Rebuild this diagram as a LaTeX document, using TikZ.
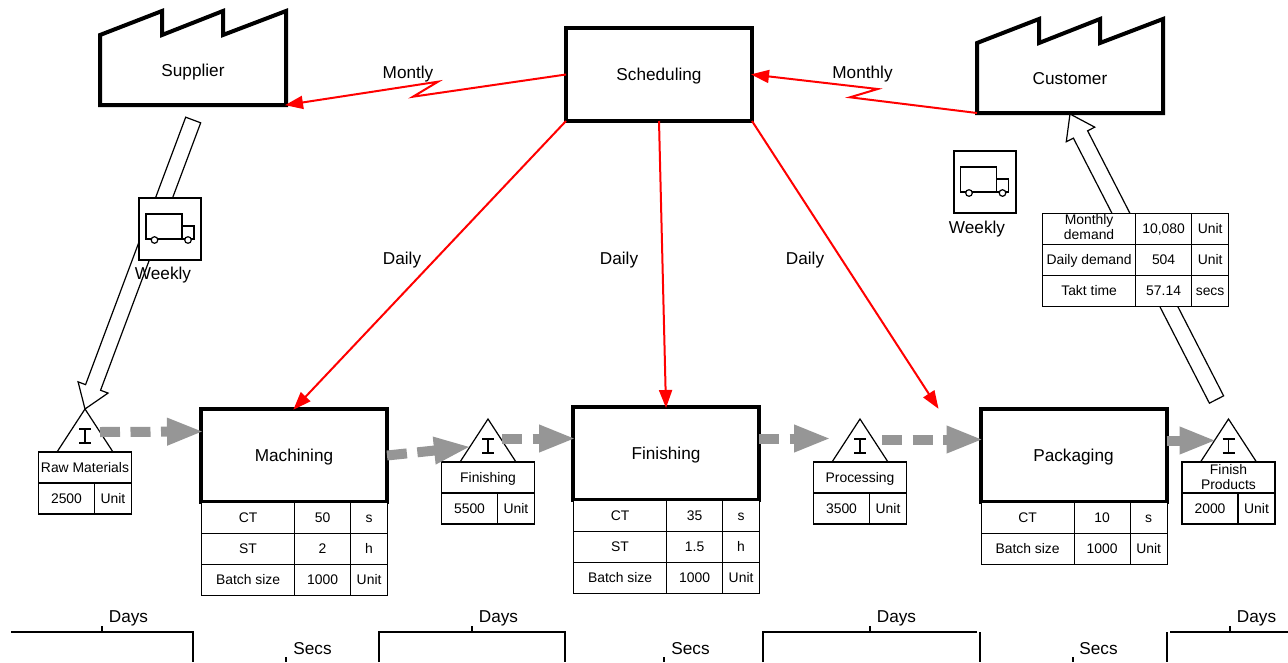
\documentclass[tikz,border=0pt]{standalone}
\usepackage{fontspec}
\setmainfont{Liberation Sans}
\usepackage{xcolor}
\usepackage{tikz}
\usetikzlibrary{
    arrows.meta,
    calc,
    matrix,
    positioning,
    shapes.geometric
}
\definecolor{pushgray}{RGB}{150,150,150}
\newcommand{\labelfont}{\fontsize{17.2}{19}\selectfont}
\newcommand{\cellfont}{\fontsize{13.9}{15}\selectfont}
\newcommand{\twolines}[2]{\begin{tabular}{@{}c@{}}#1\\#2\end{tabular}}
\tikzset{
    heavy/.style={line width=4pt, line join=miter},
    thin line/.style={draw, line width=1.2pt},
    label text/.style={font=\labelfont, text height=12.3pt, text depth=0pt},
    processbox/.style={heavy, draw, fill=white, minimum width=186pt, minimum height=93pt, outer sep=0pt, label text},
    factorybox/.style={minimum width=186pt, minimum height=70pt, outer sep=0pt, label text},
    truckbox/.style={draw, line width=2pt, fill=white, minimum width=62pt, minimum height=62pt, outer sep=0pt},
    caption/.style={label text, inner sep=0pt},
    cell/.style={thin line, fill=white, inner sep=0pt, outer sep=0pt, minimum height=31pt, align=center, font=\cellfont, text height=9.4pt, text depth=0pt},
    twoline/.style={text height=, text depth=},
    stocktri/.style={thin line, fill=white, isosceles triangle, isosceles triangle apex angle=66, shape border rotate=90, isosceles triangle stretches, minimum width=56pt, minimum height=43pt, inner sep=0pt, outer sep=0pt},
    datatable/.style={matrix of nodes, anchor=north west, inner sep=0pt, outer sep=0pt, row sep=-1.2pt, column sep=-1.2pt, nodes={cell, anchor=center},
        column 1/.style={nodes={minimum width=93pt}},
        column 2/.style={nodes={minimum width=56pt}},
        column 3/.style={nodes={minimum width=37pt}}},
    info/.style={red, line width=2pt, shorten >=-1pt, -{Triangle[length=18pt, width=13pt]}},
    push/.style={pushgray, line width=10pt, dash pattern=on 20pt off 10.5pt, shorten >=-3pt, -{Triangle[length=37pt, width=25pt]}},
    shipment/.style={thin line, fill=white, to path={
        ($(\tikztostart)!8pt!90:(\tikztotarget)$)
        -- ($($(\tikztotarget)!23pt!(\tikztostart)$)!-8pt!90:(\tikztostart)$)
        -- ($($(\tikztotarget)!23pt!(\tikztostart)$)!-16pt!90:(\tikztostart)$)
        -- (\tikztotarget)
        -- ($($(\tikztotarget)!23pt!(\tikztostart)$)!16pt!90:(\tikztostart)$)
        -- ($($(\tikztotarget)!23pt!(\tikztostart)$)!8pt!90:(\tikztostart)$)
        -- ($(\tikztostart)!-8pt!90:(\tikztotarget)$) -- cycle}},
    truck/.pic={
        \draw[line width=1.2pt] (-24,-15) rectangle (12,10);
        \draw[line width=1.2pt] (12,-3) rectangle (24,10);
        \draw[line width=1.2pt, fill=white] (-15.5,11) circle (3.3pt);
        \draw[line width=1.2pt, fill=white] (18,11) circle (3.3pt);
    }
}
% factory outline round a node
\newcommand{\factory}[1]{
    \draw[heavy] (#1.south west) -- (#1.north west) -- ++(62,-24) -- ++(0,24) -- ++(61,-24) -- ++(0,24) -- ++(63,-24) -- (#1.south east) -- cycle;
}
% options of the title, name, x, base y, title, amount
\newcommand{\stockitem}[6][]{
    \node[stocktri, anchor=lower side] (#2) at (#3,#4) {};
    \draw[line width=1.2pt] ([yshift=-20pt]#2.apex) +(-6,0) -- +(6,0) +(0,0) -- +(0,14) +(-6,14) -- +(6,14);
    \node[cell, minimum width=93pt, anchor=north, #1] (#2title) at (#2.lower side) {#5};
    \node[cell, minimum width=56pt, anchor=north west] (#2amount) at (#2title.south west) {#6};
    \node[cell, minimum width=37pt, anchor=north east] (#2unit) at (#2title.south east) {Unit};
}

\begin{document}
\begin{tikzpicture}[x=1pt, y=-1pt]
    \useasboundingbox (0,0) rectangle (1288,662);

    \node[factorybox] (supplier) at (193,70) {Supplier};
    \node[factorybox] (customer) at (1070,78) {Customer};
    \factory{supplier}
    \factory{customer}

    \stockitem{raw}{85}{452}{Raw Materials}{2500}
    \stockitem{wip}{488}{462}{Finishing}{5500}
    \stockitem{proc}{860}{462}{Processing}{3500}
    \stockitem[twoline]{goods}{1228.5}{462}{Finish\\Products}{2000}

    \coordinate (supplierdrop) at (193.2,120);
    \coordinate (goodsdrop) at (1216.5,399.5);
    \path (supplierdrop) edge[shipment] (raw.apex);
    \path (goodsdrop) edge[shipment] (1070,114);

    \node[truckbox] (inbound) at (170,229) {};
    \pic at (inbound.center) {truck};
    \node[truckbox] (outbound) at (984.5,182) {};
    \pic at (outbound.center) {truck};
    \node[caption] (inboundlabel) at (163,273.5) {Weekly};
    \node[caption] (outboundlabel) at (977,227) {Weekly};

    \node[processbox] (scheduling) at (659,74.5) {Scheduling};
    \node[processbox] (machining) at (294,455.5) {Machining};
    \node[processbox] (finishing) at (666,453.5) {Finishing};
    \node[processbox] (packaging) at (1073.5,455.5) {Packaging};

    \matrix (machiningdata) [datatable, at={(machining.south west)}] {
        CT& 50& s\\
        ST& 2& h\\
        Batch size& 1000& Unit\\
    };
    \matrix (finishingdata) [datatable, at={(finishing.south west)}] {
        CT& 35& s\\
        ST& 1.5& h\\
        Batch size& 1000& Unit\\
    };
    \matrix (packagingdata) [datatable, at={(packaging.south west)}] {
        CT& 10& s\\
        Batch size& 1000& Unit\\
    };
    \matrix (demand) [datatable, at={(1042,213)}] {
        |[twoline]| \twolines{Monthly}{demand}& 10,080& Unit\\
        Daily demand& 504& Unit\\
        Takt time& 57.14& secs\\
    };

    % information flow
    \draw[info] (scheduling.west) -- (413,96.7) -- (438,81.7) -- (supplier.south east);
    \draw[info] (customer.south west) -- (850,97.3) -- (877.7,89) -- (scheduling.east);
    \draw[info] (scheduling.south west) -- (machining.north);
    \draw[info] (scheduling.south) -- (finishing.north);
    \coordinate (packagingdrop) at (938,408);
    \draw[info] (scheduling.south east) -- (packagingdrop);

    % material flow
    \draw[push] (100,432) -- ([yshift=24pt]machining.west);
    \draw[push] (machining.east) -- (468,447);
    \draw[push] (502,438.5) -- ([yshift=15pt]finishing.west);
    \draw[push] ([yshift=15pt]finishing.east) -- (828,438.5);
    \draw[push] (882,439.5) -- ([yshift=16pt]packaging.west);
    \draw[push] ([yshift=15pt]packaging.east) -- (1213.5,440.5);

    \node[caption] (dailya) at (402,258) {Daily};
    \node[caption] (dailyb) at (619,258) {Daily};
    \node[caption] (dailyc) at (805,258) {Daily};
    \node[caption] (montly) at (408,72) {Montly};
    \node[caption] (monthly) at (862.5,72) {Monthly};

    % time line
    \draw[line width=1.2pt] (11,632) -- (193,632) -- (193,662);
    \draw[line width=1.2pt] (379,662) -- (379,632) -- (565,632) -- (565,662);
    \draw[line width=1.2pt] (763,662) -- (763,632) -- (977,632);
    \draw[line width=1.2pt] (980,632) -- (980,662);
    \draw[line width=1.2pt] (1167,632) -- (1167,662);
    \draw[line width=1.2pt] (1170,632) -- (1288,632);
    \foreach \x in {102,472,870,1230}
        \draw[line width=1.2pt] (\x,626) -- (\x,632);
    \foreach \x in {286,664,1073}
        \draw[line width=1.2pt] (\x,657) -- (\x,662);
    \foreach \x [count=\i] in {128.5,498.5,896.5,1256.5}
        \node[caption] (days\i) at (\x,616.5) {Days};
    \foreach \x [count=\i] in {312.5,690.5,1098.5}
        \node[caption] (secs\i) at (\x,648) {Secs};
\end{tikzpicture}
\end{document}
